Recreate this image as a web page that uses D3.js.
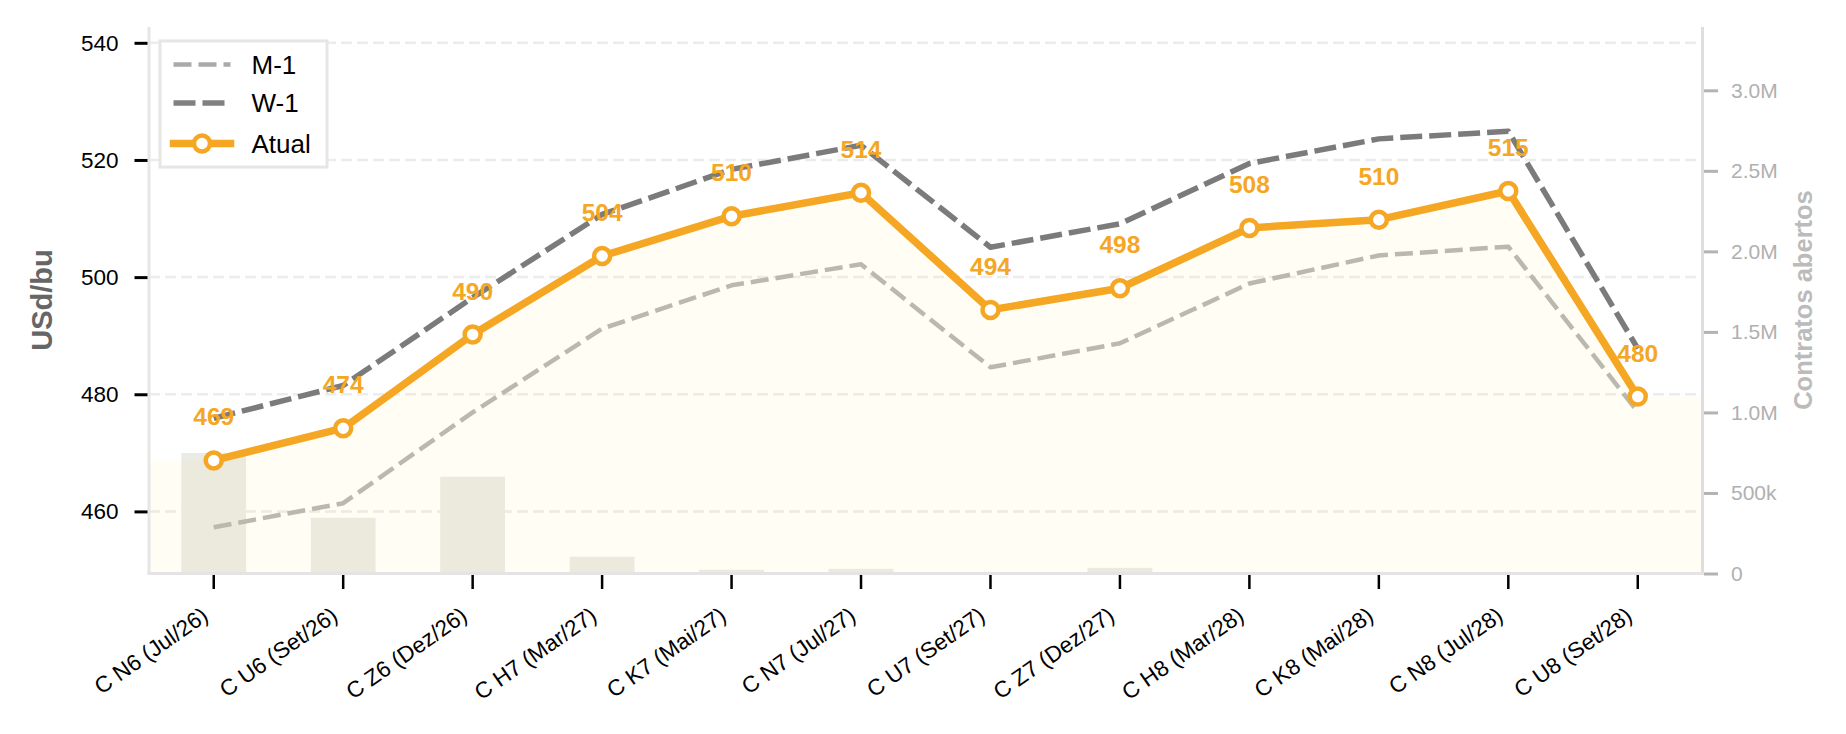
<!DOCTYPE html>
<html>
<head>
<meta charset="utf-8">
<script src="https://cdn.jsdelivr.net/npm/d3@7"></script>
<style>
  body { margin: 0; background: #fff; }
  svg { display: block; font-family: "Liberation Sans", Arial, Helvetica, sans-serif; }
  .axis .domain { display: none; }
</style>
</head>
<body>
<svg id="chart" width="1846" height="734"></svg>
<script>
/*
  CURVA DE FUTUROS - MILHO (CBOT)
  Current curve vs one week / one month ago, open interest as bars
*/

// Data
const contracts = [
  'C N6 (Jul/26)', 'C U6 (Set/26)', 'C Z6 (Dez/26)', 'C H7 (Mar/27)',
  'C K7 (Mai/27)', 'C N7 (Jul/27)', 'C U7 (Set/27)', 'C Z7 (Dez/27)',
  'C H8 (Mar/28)', 'C K8 (Mai/28)', 'C N8 (Jul/28)', 'C U8 (Set/28)'
];
const atual = [468.7, 474.2, 490.2, 503.6, 510.4, 514.4, 494.4, 498.1, 508.4, 509.8, 514.7, 479.6];
const w1 = [475.9, 481.5, 496.5, 510.7, 518.4, 522.5, 505.1, 509.1, 519.4, 523.6, 524.9, 487.8];
const m1 = [457.3, 461.4, 476.9, 491.2, 498.6, 502.2, 484.6, 488.7, 498.9, 503.7, 505.2, 477.0];
const openInterest = [748000, 346000, 601000, 104000, 23000, 29000, 1500, 35000, 1000, 500, 300, 0];

const priceTicks = [460, 480, 500, 520, 540];
const oiTicks = [0, 500000, 1000000, 1500000, 2000000, 2500000, 3000000];
const oiTickLabels = ['0', '500k', '1.0M', '1.5M', '2.0M', '2.5M', '3.0M'];

const ORANGE = '#F5A623';

// plot frame (px)
const frame = { left: 149, right: 1702.5, top: 27, bottom: 573.5 };

/**
 * Scales
 */
const scale = {};
scale.x = d3.scaleBand()
  .domain(contracts)
  .range([frame.left, frame.right])
  .paddingInner(0.5)
  .paddingOuter(0.25);

scale.y = d3.scaleLinear()
  .domain([449.4, 542.7])
  .range([frame.bottom, frame.top]);

scale.oi = d3.scaleLinear()
  .domain([0, 3393000])
  .range([frame.bottom, frame.top]);

function cx(i) {
  return scale.x(contracts[i]) + scale.x.bandwidth() / 2;
}

const dom = {};
dom.svg = d3.select('#chart');

/*
 * Grid (left axis only)
 */
dom.svg.append('g')
  .attr('class', 'grid')
  .selectAll('line')
  .data(priceTicks)
  .join('line')
  .attr('x1', frame.left)
  .attr('x2', frame.right)
  .attr('y1', d => scale.y(d))
  .attr('y2', d => scale.y(d))
  .attr('stroke', '#ececec')
  .attr('stroke-width', 2.5)
  .attr('stroke-dasharray', '11,5');

/*
 * Open interest bars (right axis)
 */
dom.svg.append('g')
  .selectAll('rect')
  .data(openInterest)
  .join('rect')
  .attr('x', (d, i) => scale.x(contracts[i]))
  .attr('width', scale.x.bandwidth())
  .attr('y', d => scale.oi(d))
  .attr('height', d => frame.bottom - scale.oi(d))
  .attr('fill', '#ebebe6');

/*
 * Soft fill under the current curve, stretched to the frame edges
 */
const fillPts = [{ x: frame.left, v: atual[0] }]
  .concat(atual.map((v, i) => ({ x: cx(i), v })))
  .concat([{ x: frame.right, v: atual[atual.length - 1] }]);

dom.svg.append('path')
  .datum(fillPts)
  .attr('d', d3.area()
    .x(d => d.x)
    .y0(frame.bottom)
    .y1(d => scale.y(d.v)))
  .attr('fill', '#f8d640')
  .attr('fill-opacity', 0.06);

/*
 * Lines
 */
const line = d3.line()
  .x((d, i) => cx(i))
  .y(d => scale.y(d));

const series = [
  { name: 'M-1', values: m1, color: '#b9b9ad', legendColor: '#aaaaaa', width: 4.5, dash: '18,7' },
  { name: 'W-1', values: w1, color: '#7b7b7b', legendColor: '#808080', width: 5.5, dash: '22,7' },
  { name: 'Atual', values: atual, color: ORANGE, legendColor: ORANGE, width: 7.5, dash: null }
];

series.forEach(s => {
  dom.svg.append('path')
    .datum(s.values)
    .attr('d', line)
    .attr('fill', 'none')
    .attr('stroke', s.color)
    .attr('stroke-width', s.width)
    .attr('stroke-linejoin', 'round')
    .attr('stroke-dasharray', s.dash);
});

// markers on the current curve
dom.svg.append('g')
  .selectAll('circle')
  .data(atual)
  .join('circle')
  .attr('cx', (d, i) => cx(i))
  .attr('cy', d => scale.y(d))
  .attr('r', 8)
  .attr('fill', '#fff')
  .attr('stroke', ORANGE)
  .attr('stroke-width', 4.5);

// value labels
dom.svg.append('g')
  .selectAll('text')
  .data(atual)
  .join('text')
  .attr('x', (d, i) => cx(i))
  .attr('y', d => scale.y(d) - 35)
  .attr('text-anchor', 'middle')
  .attr('font-size', 24.5)
  .attr('font-weight', 'bold')
  .attr('fill', ORANGE)
  .text(d => d3.format('.0f')(d));

/*
 * Spines
 */
const spine = dom.svg.append('g')
  .attr('stroke-width', 3);
spine.append('line')
  .attr('x1', frame.left).attr('x2', frame.left)
  .attr('y1', frame.top).attr('y2', frame.bottom)
  .attr('stroke', '#e6e6e6');
spine.append('line')
  .attr('x1', frame.right).attr('x2', frame.right)
  .attr('y1', frame.top).attr('y2', frame.bottom)
  .attr('stroke', '#dedede');
spine.append('line')
  .attr('x1', frame.left - 1.5).attr('x2', frame.right + 1.5)
  .attr('y1', frame.bottom).attr('y2', frame.bottom)
  .attr('stroke', '#e4e4e4');

/*
 * Axes
 */
const axis = {};

axis.y = d3.axisLeft(scale.y)
  .tickValues(priceTicks)
  .tickSize(13)
  .tickPadding(16);

axis.oi = d3.axisRight(scale.oi)
  .tickValues(oiTicks)
  .tickSize(14)
  .tickPadding(13)
  .tickFormat((d, i) => oiTickLabels[i]);

axis.x = d3.axisBottom(scale.x)
  .tickSize(14);

dom.axis = {};

dom.axis.y = dom.svg.append('g')
  .attr('class', 'axis')
  .attr('transform', `translate(${frame.left - 1.5}, 0)`)
  .call(axis.y);
dom.axis.y.selectAll('line').attr('stroke', '#000').attr('stroke-width', 3);
dom.axis.y.selectAll('text')
  .attr('font-size', 22.5)
  .attr('fill', '#000');

dom.axis.oi = dom.svg.append('g')
  .attr('class', 'axis')
  .attr('transform', `translate(${frame.right + 1.5}, 0)`)
  .call(axis.oi);
dom.axis.oi.selectAll('line').attr('stroke', '#b3b3b3').attr('stroke-width', 3);
dom.axis.oi.selectAll('text')
  .attr('font-size', 21)
  .attr('fill', '#b0b0b0');

dom.axis.x = dom.svg.append('g')
  .attr('class', 'axis')
  .attr('transform', `translate(0, ${frame.bottom + 1.5})`)
  .call(axis.x);
dom.axis.x.selectAll('line').attr('stroke', '#000').attr('stroke-width', 2.5);
dom.axis.x.selectAll('text')
  .attr('y', null)
  .attr('dy', null)
  .attr('text-anchor', 'end')
  .attr('transform', 'translate(-4, 44) rotate(-35)')
  .attr('font-size', 22.5)
  .attr('fill', '#000');

/*
 * Axis titles
 */
dom.svg.append('text')
  .attr('transform', 'translate(52, 300) rotate(-90)')
  .attr('text-anchor', 'middle')
  .attr('font-size', 29)
  .attr('font-weight', 'bold')
  .attr('fill', '#666')
  .text('USd/bu');

dom.svg.append('text')
  .attr('transform', 'translate(1812, 300) rotate(-90)')
  .attr('text-anchor', 'middle')
  .attr('font-size', 25.5)
  .attr('font-weight', 'bold')
  .attr('fill', '#bbb')
  .text('Contratos abertos');

/*
 * Legend
 */
const legend = dom.svg.append('g')
  .attr('transform', 'translate(160, 41)');

legend.append('rect')
  .attr('width', 167)
  .attr('height', 126)
  .attr('fill', '#fff')
  .attr('stroke', '#e6e6e6')
  .attr('stroke-width', 3);

const rowY = [23.5, 62, 102.5];
series.forEach((s, i) => {
  const row = legend.append('g')
    .attr('transform', `translate(0, ${rowY[i]})`);

  row.append('line')
    .attr('x1', 13.5).attr('x2', 70.5)
    .attr('stroke', s.legendColor)
    .attr('stroke-width', s.width)
    .attr('stroke-dasharray', s.dash)
    .attr('stroke-linecap', s.dash ? 'butt' : 'square');

  if (!s.dash) {
    row.append('circle')
      .attr('cx', 42)
      .attr('r', 8)
      .attr('fill', '#fff')
      .attr('stroke', ORANGE)
      .attr('stroke-width', 4.5);
  }

  row.append('text')
    .attr('x', 91.5)
    .attr('dy', '0.36em')
    .attr('font-size', 26)
    .attr('fill', '#000')
    .text(s.name);
});
</script>
</body>
</html>
